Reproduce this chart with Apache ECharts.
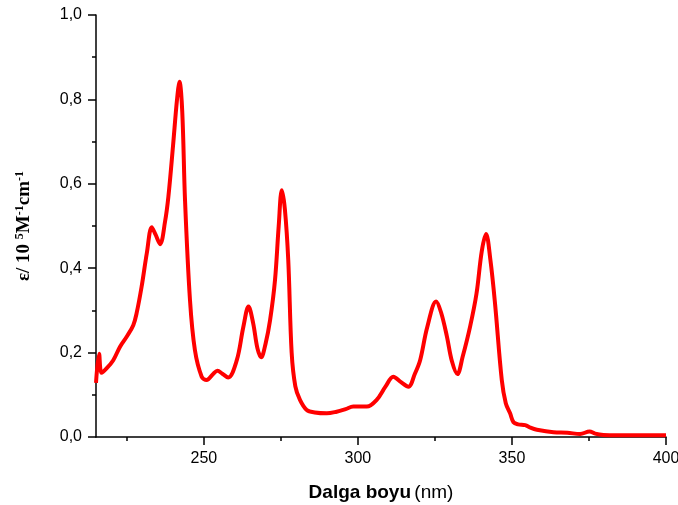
<!DOCTYPE html>
<html>
<head>
<meta charset="utf-8">
<script src="https://cdn.jsdelivr.net/npm/echarts@6/dist/echarts.min.js"></script>
<style>html,body{margin:0;padding:0;background:#fff}#c{width:678px;height:505px}</style>
</head>
<body>
<div id="c"></div>
<script>
var wavelengths = [215.0,216.0,216.8,218.5,220.6,222.8,225.0,227.1,228.2,229.8,231.5,233.1,234.3,235.8,237.4,238.5,240.0,241.3,242.1,243.0,243.9,245.5,247.1,249.3,250.9,253.1,254.4,256.0,257.9,260.7,262.8,264.5,266.0,267.4,268.6,270.0,271.5,273.1,274.3,275.3,276.3,277.4,278.5,279.7,281.2,283.4,286.0,289.9,293.1,296.0,298.5,302.9,306.1,309.0,311.5,314.0,316.4,318.5,320.2,322.5,325.4,327.0,328.9,330.5,332.3,334.0,336.4,338.5,340.2,341.6,343.0,344.5,346.7,348.0,349.4,350.5,352.0,354.3,356.0,358.1,363.5,368.0,372.1,375.2,377.0,379.7,390.0,400.0];
var epsilon = [0.128,0.197,0.152,0.163,0.182,0.214,0.238,0.265,0.294,0.356,0.436,0.497,0.480,0.457,0.510,0.570,0.690,0.800,0.842,0.770,0.560,0.325,0.206,0.143,0.135,0.150,0.157,0.150,0.141,0.182,0.260,0.309,0.270,0.210,0.189,0.220,0.277,0.372,0.500,0.585,0.540,0.419,0.200,0.120,0.088,0.064,0.058,0.056,0.060,0.066,0.072,0.072,0.088,0.120,0.143,0.130,0.119,0.150,0.182,0.260,0.321,0.295,0.238,0.180,0.149,0.190,0.261,0.340,0.440,0.481,0.420,0.317,0.135,0.080,0.056,0.035,0.030,0.028,0.022,0.017,0.011,0.010,0.007,0.013,0.008,0.005,0.004,0.004];
var xMajorTicks = [250, 300, 350, 400];
var xMinorTicks = [225, 275, 325, 375];
var yTicks = [0, 0.2, 0.4, 0.6, 0.8, 1.0];

var chart = echarts.init(document.getElementById('c'), null, {renderer: 'canvas'});
var data = wavelengths.map(function (w, i) { return [w, epsilon[i]]; });
var axisLineStyle = {color: '#000', width: 1.5};
chart.setOption({
  animation: false,
  backgroundColor: '#fff',
  grid: {left: 96, right: 12, top: 15, bottom: 68, containLabel: false, outerBoundsMode: 'none'},
  xAxis: [{
    type: 'value', min: 215, max: 400,
    axisLine: {show: true, onZero: false, lineStyle: axisLineStyle},
    axisTick: {show: true, length: 8, customValues: xMajorTicks, lineStyle: axisLineStyle},
    axisLabel: {customValues: xMajorTicks, fontFamily: 'Liberation Sans, Arial', fontSize: 16, color: '#000', margin: 14},
    splitLine: {show: false},
    name: '{b|Dalga boyu} {n|(nm)}', nameLocation: 'middle', nameGap: 46,
    nameTextStyle: {rich: {
      b: {fontFamily: 'Liberation Sans, Arial', fontWeight: 'bold', fontSize: 19, color: '#000'},
      n: {fontFamily: 'Liberation Sans, Arial', fontSize: 19, color: '#000'}
    }}
  }, {
    type: 'value', min: 215, max: 400, position: 'bottom',
    axisLine: {show: false},
    axisTick: {show: true, length: 4, customValues: xMinorTicks, lineStyle: axisLineStyle},
    axisLabel: {show: false},
    splitLine: {show: false}
  }],
  yAxis: {
    type: 'value', min: 0, max: 1.0, interval: 0.2,
    axisLine: {show: true, onZero: false, lineStyle: axisLineStyle},
    axisTick: {show: true, length: 8, lineStyle: axisLineStyle},
    minorTick: {show: true, splitNumber: 2, length: 4, lineStyle: axisLineStyle},
    axisLabel: {fontFamily: 'Liberation Sans, Arial', fontSize: 16, color: '#000', margin: 14,
      formatter: function (v) { return v.toFixed(1).replace('.', ','); }},
    splitLine: {show: false},
    name: '{m|ε/ 10 }{s|5}{m|M}{s|-1}{m|cm}{s|-1}', nameLocation: 'middle', nameRotate: 90, nameGap: 61,
    nameTextStyle: {rich: {
      m: {fontFamily: 'Liberation Serif, Times New Roman', fontWeight: 'bold', fontSize: 19, color: '#000', lineHeight: 21},
      s: {fontFamily: 'Liberation Serif, Times New Roman', fontWeight: 'bold', fontSize: 12, color: '#000', lineHeight: 21, verticalAlign: 'top'}
    }}
  },
  series: [{
    type: 'line', xAxisIndex: 0, data: data, smooth: 0.35, showSymbol: false,
    lineStyle: {color: '#ff0000', width: 4}, clip: true
  }]
});
</script>
</body>
</html>
